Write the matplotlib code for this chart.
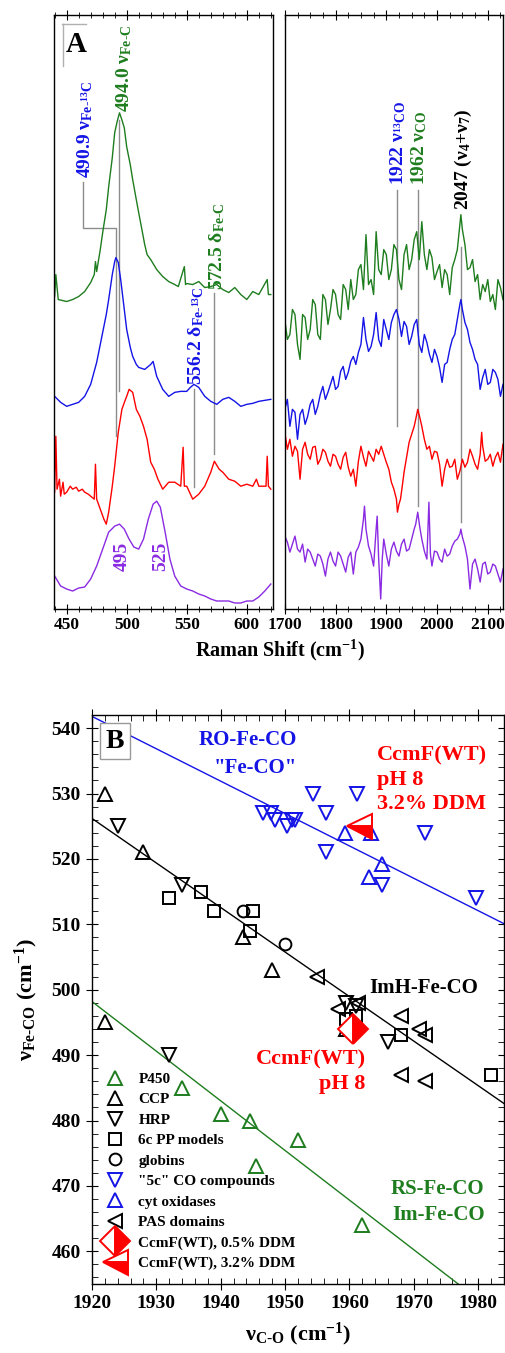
import numpy as np
import matplotlib
matplotlib.use('Agg')
import matplotlib.pyplot as plt
from matplotlib.ticker import MultipleLocator

plt.rcParams.update({
    'font.family': ['Liberation Serif', 'DejaVu Serif'],
    'font.weight': 'bold',
    'axes.labelweight': 'bold',
    'mathtext.fontset': 'custom',
    'mathtext.rm': 'Liberation Serif:bold',
    'mathtext.it': 'Liberation Serif:bold',
    'mathtext.bf': 'Liberation Serif:bold',
    'mathtext.default': 'rm',
    'axes.linewidth': 1.0,
})

GREEN = '#1e7d1e'
BLUE = '#1414e6'
RED = '#ff0000'
PURPLE = '#8a2be2'
GREY = '#8c8c8c'

# ---------------------------------------------------------------- panel A data
# low-frequency region (arbitrary intensity units, each trace relative to its own baseline)
lo_12co_x = [440, 441, 443, 450, 455, 460, 465, 470, 473, 474, 475, 478, 480, 483, 485, 488, 490, 492,
             494, 496, 498, 500, 503, 505, 508, 510, 513, 515, 517, 520, 525, 530, 535, 540, 543, 548,
             549, 550, 555, 560, 565, 570, 575, 580, 585, 590, 595, 600, 605, 610, 617, 618, 620]
lo_12co_y = [13, 35, 10, 8, 10, 13, 18, 27, 35, 48, 38, 60, 77, 100, 123, 152, 177, 188,
             197, 190, 182, 163, 145, 130, 110, 97, 78, 65, 55, 50, 40, 33, 28, 25, 23, 43,
             25, 26, 25, 28, 22, 23, 25, 20, 17, 22, 15, 10, 18, 15, 30, 15, 15]
lo_13co_x = [440, 445, 450, 455, 460, 465, 470, 475, 478, 480, 483, 485, 488, 490, 491, 493, 495, 498,
             500, 503, 505, 508, 510, 515, 520, 522, 525, 530, 535, 540, 545, 550, 553, 556, 560, 565,
             570, 575, 580, 585, 590, 595, 600, 605, 610, 615, 620]
lo_13co_y = [13, 7, 3, 5, 7, 13, 25, 47, 65, 77, 95, 110, 135, 148, 152, 147, 130, 100,
             80, 62, 53, 45, 42, 40, 45, 48, 33, 20, 13, 17, 18, 18, 22, 25, 22, 13,
             8, 5, 10, 12, 8, 3, 5, 6, 8, 9, 10]
lo_diff_x = [440, 441, 442, 444, 445, 447, 448, 450, 453, 455, 458, 460, 463, 465, 468, 470, 473, 474,
             475, 478, 481, 483, 485, 488, 490, 493, 496, 499, 500, 502, 505, 508, 511, 514, 517, 520,
             523, 526, 530, 535, 540, 545, 547, 548, 550, 555, 560, 565, 570, 573, 577, 580, 585, 590,
             595, 600, 605, 608, 610, 616, 617, 618, 620]
lo_diff_y = [12, 68, 15, 25, 8, 22, 10, 12, 18, 15, 17, 13, 15, 12, 10, 8, 5, 40,
             5, -5, -15, -20, -8, 18, 38, 72, 95, 105, 108, 115, 112, 95, 88, 78, 65, 42,
             35, 25, 15, 22, 22, 18, 57, 18, 18, 5, 10, 18, 32, 43, 35, 32, 25, 23,
             18, 20, 18, 25, 18, 18, 48, 18, 15]
lo_ref_x = [440, 445, 450, 455, 460, 465, 470, 475, 480, 485, 490, 494, 498, 502, 506, 510, 514, 518,
            522, 525, 528, 532, 536, 540, 545, 550, 555, 560, 565, 570, 575, 580, 585, 590, 595, 600,
            605, 610, 615, 620]
lo_ref_y = [33, 23, 20, 18, 21, 22, 30, 43, 60, 77, 83, 85, 80, 70, 62, 60, 70, 90,
            105, 108, 102, 77, 50, 33, 23, 20, 18, 15, 13, 10, 8, 8, 8, 6, 6, 8,
            8, 12, 18, 25]

# high-frequency region
hi_12co_x = [1700, 1705, 1710, 1715, 1720, 1725, 1730, 1735, 1740, 1745, 1750, 1755, 1760, 1765, 1770,
             1775, 1780, 1785, 1790, 1795, 1800, 1805, 1810, 1815, 1820, 1825, 1830, 1835, 1840, 1845,
             1850, 1855, 1860, 1865, 1870, 1875, 1880, 1885, 1890, 1895, 1900, 1905, 1910, 1915, 1920,
             1925, 1930, 1935, 1940, 1945, 1950, 1955, 1960, 1965, 1970, 1975, 1980, 1985, 1990, 1995,
             2000, 2005, 2010, 2015, 2020, 2025, 2030, 2035, 2040, 2045, 2047, 2050, 2055, 2060, 2065,
             2070, 2075, 2080, 2085, 2090, 2095, 2100, 2105, 2110, 2115, 2120, 2125, 2130]
hi_12co_y = [-10, -30, -25, 0, -5, -35, -50, -5, -8, -30, -20, 10, 5, -25, -30,
             15, 10, -15, 0, 20, 15, -5, -10, 25, 20, 0, 30, 10, 15, 40,
             45, 20, 75, 25, 30, 15, 78, 40, 35, 60, 55, 30, 40, 65, 60,
             30, 20, 55, 65, 40, 50, 70, 78, 50, 88, 55, 40, 60, 52, 30,
             38, 45, 22, 40, 35, 15, 42, 50, 60, 85, 95, 80, 65, 40, 42,
             50, 28, 35, 10, 25, 18, 30, 8, 15, 0, 30, 22, 10]
hi_13co_x = [1700, 1705, 1710, 1715, 1720, 1725, 1730, 1735, 1740, 1745, 1750, 1755, 1760, 1765, 1770,
             1775, 1780, 1785, 1790, 1795, 1800, 1805, 1810, 1815, 1820, 1825, 1830, 1835, 1840, 1845,
             1850, 1855, 1860, 1865, 1870, 1875, 1880, 1885, 1890, 1895, 1900, 1905, 1910, 1915, 1920,
             1925, 1930, 1935, 1940, 1945, 1950, 1955, 1960, 1965, 1970, 1975, 1980, 1985, 1990, 1995,
             2000, 2005, 2010, 2015, 2020, 2025, 2030, 2035, 2040, 2045, 2047, 2050, 2055, 2060, 2065,
             2070, 2075, 2080, 2085, 2090, 2095, 2100, 2105, 2110, 2115, 2120, 2125, 2130]
hi_13co_y = [0, 10, -17, 0, -3, -30, -5, 0, -15, -7, 5, 10, -5, 3, 15,
             23, 10, 17, 25, 33, 20, 23, 38, 43, 30, 37, 48, 53, 45, 57,
             65, 92, 70, 58, 63, 75, 97, 70, 63, 90, 80, 70, 87, 95, 100,
             90, 73, 88, 83, 65, 73, 85, 90, 65, 57, 75, 67, 55, 47, 60,
             53, 42, 27, 45, 47, 60, 70, 75, 90, 105, 110, 100, 87, 80, 67,
             60, 50, 45, 20, 32, 40, 25, 27, 40, 37, 30, 13, 25]
hi_diff_x = [1700, 1705, 1710, 1715, 1720, 1725, 1730, 1735, 1740, 1745, 1750, 1755, 1760, 1765, 1770,
             1775, 1780, 1785, 1790, 1795, 1800, 1805, 1810, 1815, 1820, 1825, 1830, 1835, 1840, 1845,
             1850, 1855, 1860, 1865, 1870, 1875, 1880, 1885, 1890, 1895, 1900, 1905, 1910, 1915, 1920,
             1922, 1925, 1928, 1932, 1935, 1940, 1945, 1950, 1955, 1958, 1962, 1966, 1970, 1975, 1980,
             1985, 1990, 1995, 2000, 2005, 2010, 2015, 2020, 2025, 2030, 2035, 2040, 2045, 2050, 2055,
             2060, 2065, 2070, 2075, 2080, 2085, 2088, 2090, 2095, 2100, 2105, 2110, 2115, 2120, 2125,
             2130]
hi_diff_y = [72, 55, 65, 48, 58, 53, 25, 55, 62, 50, 45, 57, 58, 40, 45,
             55, 52, 43, 38, 50, 48, 40, 35, 47, 52, 37, 28, 35, 18, 43,
             58, 47, 38, 53, 48, 43, 55, 50, 58, 50, 42, 35, 22, 15, 5,
             -8, 0, 5, 20, 32, 47, 62, 70, 78, 85, 95, 87, 78, 65, 55,
             58, 45, 53, 52, 40, 18, 35, 45, 37, 38, 45, 25, 33, 45, 37,
             42, 55, 48, 40, 35, 50, 72, 58, 43, 45, 50, 38, 47, 52, 42,
             60]
hi_ref_x = [1700, 1705, 1710, 1715, 1720, 1725, 1730, 1735, 1740, 1745, 1750, 1755, 1760, 1765, 1770,
            1775, 1780, 1785, 1790, 1795, 1800, 1805, 1810, 1815, 1820, 1825, 1830, 1835, 1840, 1845,
            1850, 1855, 1857, 1860, 1865, 1870, 1875, 1880, 1882, 1885, 1889, 1892, 1895, 1900, 1905,
            1910, 1915, 1920, 1925, 1930, 1935, 1940, 1945, 1950, 1955, 1958, 1962, 1966, 1970, 1975,
            1980, 1984, 1987, 1990, 1995, 2000, 2005, 2010, 2015, 2020, 2025, 2030, 2035, 2040, 2045,
            2047, 2050, 2055, 2060, 2065, 2070, 2075, 2080, 2085, 2090, 2095, 2100, 2105, 2110, 2115,
            2120, 2125, 2130]
hi_ref_y = [73, 67, 57, 65, 73, 60, 57, 65, 47, 60, 57, 50, 43, 55, 53,
            45, 33, 50, 57, 48, 43, 57, 53, 45, 37, 52, 57, 35, 57, 62,
            70, 90, 103, 80, 63, 55, 43, 80, 93, 50, 10, 50, 70, 55, 43,
            60, 67, 58, 53, 65, 70, 58, 60, 70, 80, 85, 97, 82, 70, 58,
            50, 107, 55, 43, 58, 57, 50, 47, 60, 53, 55, 63, 68, 70, 75,
            80, 72, 63, 50, 20, 45, 50, 40, 27, 45, 47, 35, 37, 45, 43,
            35, 27, 40]

trace_colors = [GREEN, BLUE, RED, PURPLE]
trace_offsets = [300, 200, 105, 0]

# ---------------------------------------------------------------- panel B data
p450_x = [1934, 1940, 1944.5, 1945.5, 1952, 1962]
p450_y = [485, 481, 480, 473, 477, 464]
ccp_x = [1922, 1928, 1943.5, 1948, 1922, 1959.5]
ccp_y = [530, 521, 508, 503, 495, 494]
hrp_x = [1924, 1934, 1932, 1966, 1959.5, 1961]
hrp_y = [525, 516, 490, 492, 498, 497.5]
pp6c_x = [1932, 1937, 1939, 1945, 1944.6, 1968, 1982, 1959.5, 1961]
pp6c_y = [514, 515, 512, 512, 509, 493, 487, 495.5, 496]
globin_x = [1943.5, 1950]
globin_y = [512, 507]
co5c_x = [1946.5, 1947.8, 1948.5, 1950.3, 1951, 1951.6, 1954.3, 1956.3, 1956.3, 1961.2, 1965, 1971.8, 1979.7]
co5c_y = [527, 527, 526, 525, 526, 526, 530, 527, 521, 530, 516, 524, 514]
cytox_x = [1959.3, 1963.3, 1965, 1963]
cytox_y = [524, 524, 519.3, 517.2]
pas_x = [1955, 1968, 1970.8, 1971.8, 1968, 1971.8, 1958.2, 1961.4]
pas_y = [502, 496, 494, 493, 487, 486, 497, 498]
ccmf05_x = [1960.5]
ccmf05_y = [494]
ccmf32_x = [1961.5]
ccmf32_y = [525]

ro_line_x = [1920, 1984]
ro_line_y = [541.8, 510.1]
imh_line_x = [1920, 1984]
imh_line_y = [526.2, 482.6]
rs_line_x = [1920, 1984]
rs_line_y = [498.2, 449.6]

fig = plt.figure(figsize=(5.05, 13.53), dpi=100)

# ---------------------------------------------------------------- panel A
axL = fig.add_axes([0.107, 0.5499, 0.434, 0.439])
axR = fig.add_axes([0.564, 0.5499, 0.432, 0.439])

lo = [(lo_12co_x, lo_12co_y), (lo_13co_x, lo_13co_y), (lo_diff_x, lo_diff_y), (lo_ref_x, lo_ref_y)]
hi = [(hi_12co_x, hi_12co_y), (hi_13co_x, hi_13co_y), (hi_diff_x, hi_diff_y), (hi_ref_x, hi_ref_y)]
for (x, y), c, off in zip(lo, trace_colors, trace_offsets):
    axL.plot(x, np.array(y) + off, color=c, lw=1.0)
for (x, y), c, off in zip(hi, trace_colors, trace_offsets):
    axR.plot(x, np.array(y) + off, color=c, lw=1.0)

axL.set_xlim(439.5, 622)
axR.set_xlim(1700, 2130)
for ax in (axL, axR):
    ax.set_ylim(0, 595)
    ax.set_yticks([])
    ax.tick_params(axis='x', which='both', direction='inout', top=True, labelsize=12.5, pad=2)
    ax.tick_params(axis='x', which='major', length=7)
    ax.tick_params(axis='x', which='minor', length=4)
axL.xaxis.set_major_locator(MultipleLocator(50))
axL.xaxis.set_minor_locator(MultipleLocator(10))
axR.xaxis.set_major_locator(MultipleLocator(100))
axR.xaxis.set_minor_locator(MultipleLocator(25))

# leader lines
lk = dict(color=GREY, lw=1.0, zorder=1)
axL.plot([464, 464, 490.9, 490.9], [428, 382, 382, 173], **lk)
axL.plot([494, 494], [490, 218], **lk)
axL.plot([556.2, 556.2], [220, 122], **lk)
axL.plot([572.5, 572.5], [317, 155], **lk)
axR.plot([1922, 1922], [420, 183], **lk)
axR.plot([1962, 1962], [420, 103], **lk)
axR.plot([2047, 2047], [363, 87], **lk)

tk = dict(rotation=90, ha='center', va='bottom', fontsize=14)
axL.text(465, 432, r'490.9 $\nu_{\text{Fe-}^{13}\text{C}}$', color=BLUE, **tk)
axL.text(497.5, 498, r'494.0 $\nu_{\text{Fe-C}}$', color=GREEN, **tk)
axL.text(557.5, 224, r'556.2 $\delta_{\text{Fe-}^{13}\text{C}}$', color=BLUE, **tk)
axL.text(575, 320, r'572.5 $\delta_{\text{Fe-C}}$', color=GREEN, **tk)
axL.text(496, 53, '495', color=PURPLE, rotation=90, ha='center', va='center', fontsize=14)
axL.text(528, 53, '525', color=PURPLE, rotation=90, ha='center', va='center', fontsize=14)
axR.text(1922.5, 425, r'1922 $\nu_{^{13}\text{CO}}$', color=BLUE, **tk)
axR.text(1965, 425, r'1962 $\nu_{\text{CO}}$', color=GREEN, **tk)
axR.text(2052, 400, r'2047 ($\nu_4$+$\nu_7$)', color='black', **tk)

axL.text(0.1, 0.95, 'A', transform=axL.transAxes, fontsize=21, ha='center', va='center')
axL.plot([0.037, 0.146], [0.985, 0.985], transform=axL.transAxes, color='#b0b0b0', lw=1.0)
axL.plot([0.041, 0.041], [0.985, 0.915], transform=axL.transAxes, color='#b0b0b0', lw=1.0)

fig.text(0.554, 0.5196, r'Raman Shift (cm$^{-1}$)', ha='center', va='center', fontsize=14.5)

# ---------------------------------------------------------------- panel B
axB = fig.add_axes([0.182, 0.051, 0.816, 0.4205])
axB.plot(ro_line_x, ro_line_y, color=BLUE, lw=1.0)
axB.plot(imh_line_x, imh_line_y, color='black', lw=1.0)
axB.plot(rs_line_x, rs_line_y, color=GREEN, lw=1.0)

mk = dict(ls='none', mfc='none', mew=1.4)
h_p450, = axB.plot(p450_x, p450_y, marker='^', ms=10, mec=GREEN, label='P450', **mk)
h_ccp, = axB.plot(ccp_x, ccp_y, marker='^', ms=10, mec='black', label='CCP', **mk)
h_hrp, = axB.plot(hrp_x, hrp_y, marker='v', ms=10, mec='black', label='HRP', **mk)
h_pp, = axB.plot(pp6c_x, pp6c_y, marker='s', ms=8, mec='black', label='6c PP models', **mk)
h_glo, = axB.plot(globin_x, globin_y, marker='o', ms=8.5, mec='black', label='globins', **mk)
h_5c, = axB.plot(co5c_x, co5c_y, marker='v', ms=10, mec=BLUE, label='"5c" CO compounds', **mk)
h_cyt, = axB.plot(cytox_x, cytox_y, marker='^', ms=10, mec=BLUE, label='cyt oxidases', **mk)
h_pas, = axB.plot(pas_x, pas_y, marker='<', ms=10, mec='black', label='PAS domains', **mk)
h_05, = axB.plot(ccmf05_x, ccmf05_y, ls='none', marker='D', ms=15, mec=RED, mfc=RED,
                 fillstyle='right', markerfacecoloralt='white', mew=1.4, zorder=5,
                 label='CcmF(WT), 0.5% DDM')
h_32, = axB.plot(ccmf32_x, ccmf32_y, ls='none', marker='<', ms=18, mec=RED, mfc=RED,
                 fillstyle='bottom', markerfacecoloralt='white', mew=1.4, zorder=5,
                 label='CcmF(WT), 3.2% DDM')

axB.set_xlim(1920, 1984)
axB.set_ylim(455, 542)
axB.xaxis.set_major_locator(MultipleLocator(10))
axB.xaxis.set_minor_locator(MultipleLocator(2))
axB.yaxis.set_major_locator(MultipleLocator(10))
axB.yaxis.set_minor_locator(MultipleLocator(2))
axB.tick_params(which='both', top=True, right=True, labelsize=14)
axB.tick_params(which='major', direction='inout', length=9)
axB.tick_params(which='minor', direction='in', length=4)
axB.set_ylabel(r'$\nu_{\text{Fe-CO}}$ (cm$^{-1}$)', fontsize=16)
axB.yaxis.set_label_coords(-0.125, 0.5)
axB.set_xlabel(r'$\nu_{\text{C-O}}$ (cm$^{-1}$)', fontsize=16)
axB.xaxis.set_label_coords(0.5, -0.065)

axB.text(1923.6, 538, 'B', fontsize=20, ha='center', va='center',
         bbox=dict(boxstyle='square,pad=0.2', fc='white', ec='#999999', lw=1.0))
axB.text(1951.8, 536.1, 'RO-Fe-CO\n"Fe-CO"', color=BLUE, fontsize=15, ha='right', va='center',
         multialignment='right', linespacing=1.55)
axB.text(1964.2, 532.1, 'CcmF(WT)\npH 8\n3.2% DDM', color=RED, fontsize=16, ha='left', va='center',
         linespacing=1.3)
axB.text(1971.5, 500.3, 'ImH-Fe-CO', color='black', fontsize=15, ha='center', va='center')
axB.text(1962.5, 487.5, 'CcmF(WT)\npH 8', color=RED, fontsize=16, ha='right', va='center',
         multialignment='right', linespacing=1.3)
axB.text(1981, 467.5, 'RS-Fe-CO\nIm-Fe-CO', color=GREEN, fontsize=15, ha='right', va='center',
         linespacing=1.4)

axB.legend(handles=[h_p450, h_ccp, h_hrp, h_pp, h_glo, h_5c, h_cyt, h_pas, h_05, h_32],
           loc='upper left', bbox_to_anchor=(0.034, 0.372), frameon=False, fontsize=11,
           labelspacing=0.44, handlelength=1.2, handletextpad=0.93, borderaxespad=0, borderpad=0)

fig.savefig('out.png', dpi=100)
